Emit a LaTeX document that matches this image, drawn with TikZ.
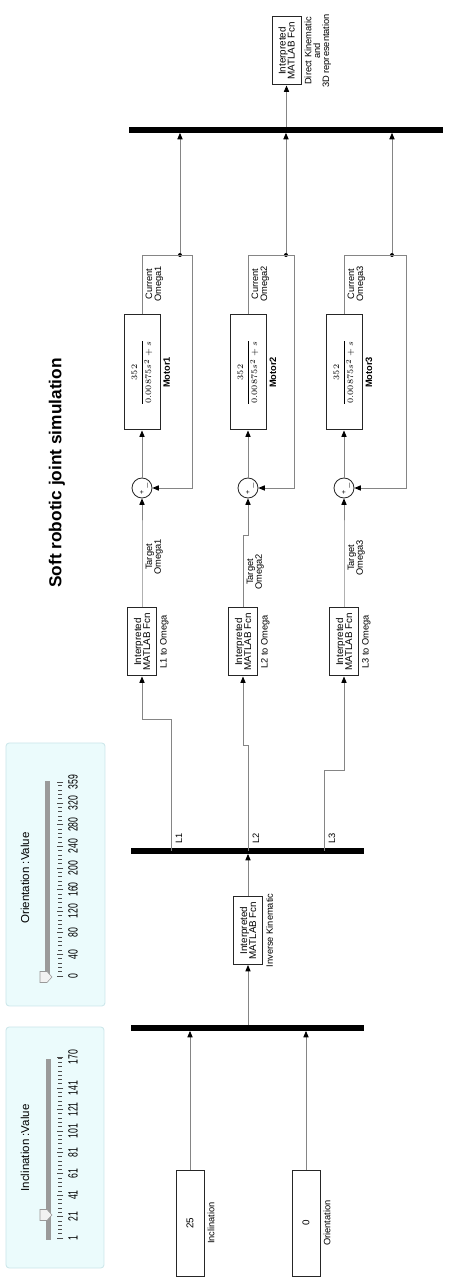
\documentclass[tikz,border=0pt]{standalone}
\usepackage{fontspec}
\setmainfont{Liberation Sans}
\usepackage{amsmath}
\usetikzlibrary{arrows.meta, positioning}
\definecolor{wiregray}{HTML}{858585}
\definecolor{panelfill}{HTML}{EBFBFC}
\definecolor{paneldraw}{HTML}{CBE6EA}
\definecolor{slidebar}{HTML}{9A9A9A}
\tikzset{%
	block/.style={
		draw=black!85,
		fill=white,
		line width=0.7pt,
		inner sep=0pt,
		align=center,
		font=\fontsize{7}{6.4}\selectfont
	},
	fcn/.style={minimum width=17mm, minimum height=7.25mm},
	motor/.style={minimum width=28.75mm, minimum height=9mm},
	const/.style={minimum width=26.5mm, minimum height=7mm},
	bus/.style={fill=black, draw=none, minimum width=1.3mm, inner sep=0pt},
	sum/.style={circle, draw=black!85, fill=white, line width=0.6pt, minimum size=5mm, inner sep=0pt},
	wire/.style={draw=wiregray, line width=0.6pt},
	signal/.style={wire, -{Triangle[length=1.6mm, width=1.3mm, color=black]}},
	blockname/.style={font=\fontsize{6.6}{6.3}\selectfont, inner sep=1pt, align=center},
	sign/.style={font=\fontsize{5}{5}\selectfont, inner sep=0pt},
	dot/.style={circle, fill=black, minimum size=1mm, inner sep=0pt},
	panel/.style={draw=paneldraw, fill=panelfill, rounded corners=0.8mm, line width=0.6pt},
	slidertick/.style={draw=black!70, line width=0.4pt},
	ticklabel/.style={font=\fontsize{9.5}{9.5}\selectfont, xscale=0.65, inner sep=0pt},
	thumb/.style={draw=black!40, fill=black!5, line width=0.4pt},
}
\begin{document}
\begin{tikzpicture}[x=0.25mm, y=0.25mm, rotate=90, transform shape]
	\useasboundingbox (0,0) rectangle (1284,474);

	\node[panel, minimum width=60.25mm, minimum height=24.5mm] (incl-panel) at (136.5,419) {};
	\node[font=\fontsize{8.2}{8.2}\selectfont] (incl-title) at (136,449) {Inclination :Value};
	\fill[slidebar] (44,423) rectangle (225,428);
	\foreach \v in {1,5,...,169}
	\draw[slidertick] ({46+(\v-1)*1.071},412) -- ++(0,4);
	\foreach \v in {1,21,...,141,170}{
		\draw[slidertick] ({46+(\v-1)*1.071},410.5) -- ++(0,6.5);
		\node[ticklabel] (incl-\v) at ({46+(\v-1)*1.071},401) {\v};
	}
	\draw[thumb] (69,422) -- ++(5.5,5) -- ++(0,7) -- ++(-11,0) -- ++(0,-7) -- cycle;

	\node[panel, minimum width=65.75mm, minimum height=24.75mm] (orient-panel) at (409.5,418.5) {};
	\node[font=\fontsize{8.2}{8.2}\selectfont] (orient-title) at (406,449) {Orientation :Value};
	\fill[slidebar] (307,424) rectangle (503,429);
	\foreach \v in {0,8,...,352}
	\draw[slidertick] ({308+\v*0.5404},412) -- ++(0,4);
	\foreach \v in {0,40,...,320,359}{
		\draw[slidertick] ({308+\v*0.5404},410.5) -- ++(0,6.5);
		\node[ticklabel] (orient-\v) at ({308+\v*0.5404},401) {\v};
	}
	\draw[thumb] (307,422) -- ++(5.5,5) -- ++(0,7) -- ++(-11,0) -- ++(0,-7) -- cycle;

	\node[font=\bfseries\fontsize{12.3}{14}\selectfont] (title) at (811,417) {Soft robotic joint simulation};

	\node[block, const] (inclination) at (61,284) {25};
	\node[blockname, below=1pt of inclination] (inclination-name) {Inclination};
	\node[block, const] (orientation) at (61,168) {0};
	\node[blockname, below=1pt of orientation] (orientation-name) {Orientation};

	\node[bus, minimum height=58.25mm] (bus-in) at (256,226.5) {};
	\draw[signal] (inclination) -- (bus-in.west |- inclination);
	\draw[signal] (orientation) -- (bus-in.west |- orientation);

	\node[block, fcn] (inverse) at (353.5,226) {Interpreted\\MATLAB Fcn};
	\node[blockname, below=1pt of inverse] (inverse-name) {Inverse Kinematic};
	\draw[signal] (bus-in.east |- inverse) -- (inverse);

	\node[bus, minimum height=58.25mm] (bus-l) at (433,226.5) {};
	\draw[signal] (inverse) -- (bus-l.west |- inverse);

	\node[bus, minimum height=78.5mm] (bus-out) at (1154,188) {};

	\foreach \i/\ys/\xs/\yb/\yc/\yf/\yd/\xt in {1/303/565/332/332/282/294/727, 2/226/539/231/226/180/188/712, 3/150/514/130/130/68/82/726}{
		\coordinate (tap-\i) at (433,\ys);
		\node[blockname, anchor=north west] (l-\i) at (439,\ys-3) {L\i};

		\node[block, fcn] (omega-\i) at (642,\yb) {Interpreted\\MATLAB Fcn};
		\node[blockname, below=1pt of omega-\i] (omega-\i-name) {L\i{} to Omega};
		\draw[signal] (tap-\i) -- (\xs,\ys) |- (omega-\i);

		\node[sum] (sum-\i) at (796,\yc) {};
		\node[sign] (plus-\i) at (792,\yc) {+};
		\node[sign] (minus-\i) at (798,\yc-5.5) {$-$};
		\draw[signal] (omega-\i) -- (749,\yb) |- (sum-\i);
		\node[blockname, anchor=north] (target-\i) at (\xt,\yb-2) {Target\\Omega\i};

		\node[block, motor] (motor-\i) at (911.5,\yc) {\fontsize{6.2}{6.5}\selectfont$\dfrac{352}{0.00875s^2+s}$};
		\node[blockname, font=\bfseries\fontsize{6.6}{6.6}\selectfont, below=1pt of motor-\i] (motor-\i-name) {Motor\i};
		\draw[signal] (sum-\i) -- (motor-\i);

		\node[dot] (split-\i) at (1029,\yd) {};
		\node[blockname, anchor=north] (current-\i) at (1000,\yc-2) {Current\\Omega\i};
		\draw[signal] (motor-\i) -| (split-\i.center) -- (1029,\yf) -| (sum-\i);
		\draw[signal] (split-\i) -- (bus-out.west |- split-\i);
	}

	\node[block, fcn] (direct) at (1233,187.5) {Interpreted\\MATLAB Fcn};
	\node[blockname, below=1pt of direct] (direct-name) {Direct Kinematic\\and\\3D representation};
	\draw[signal] (bus-out.east |- direct) -- (direct);

\end{tikzpicture}
\end{document}
